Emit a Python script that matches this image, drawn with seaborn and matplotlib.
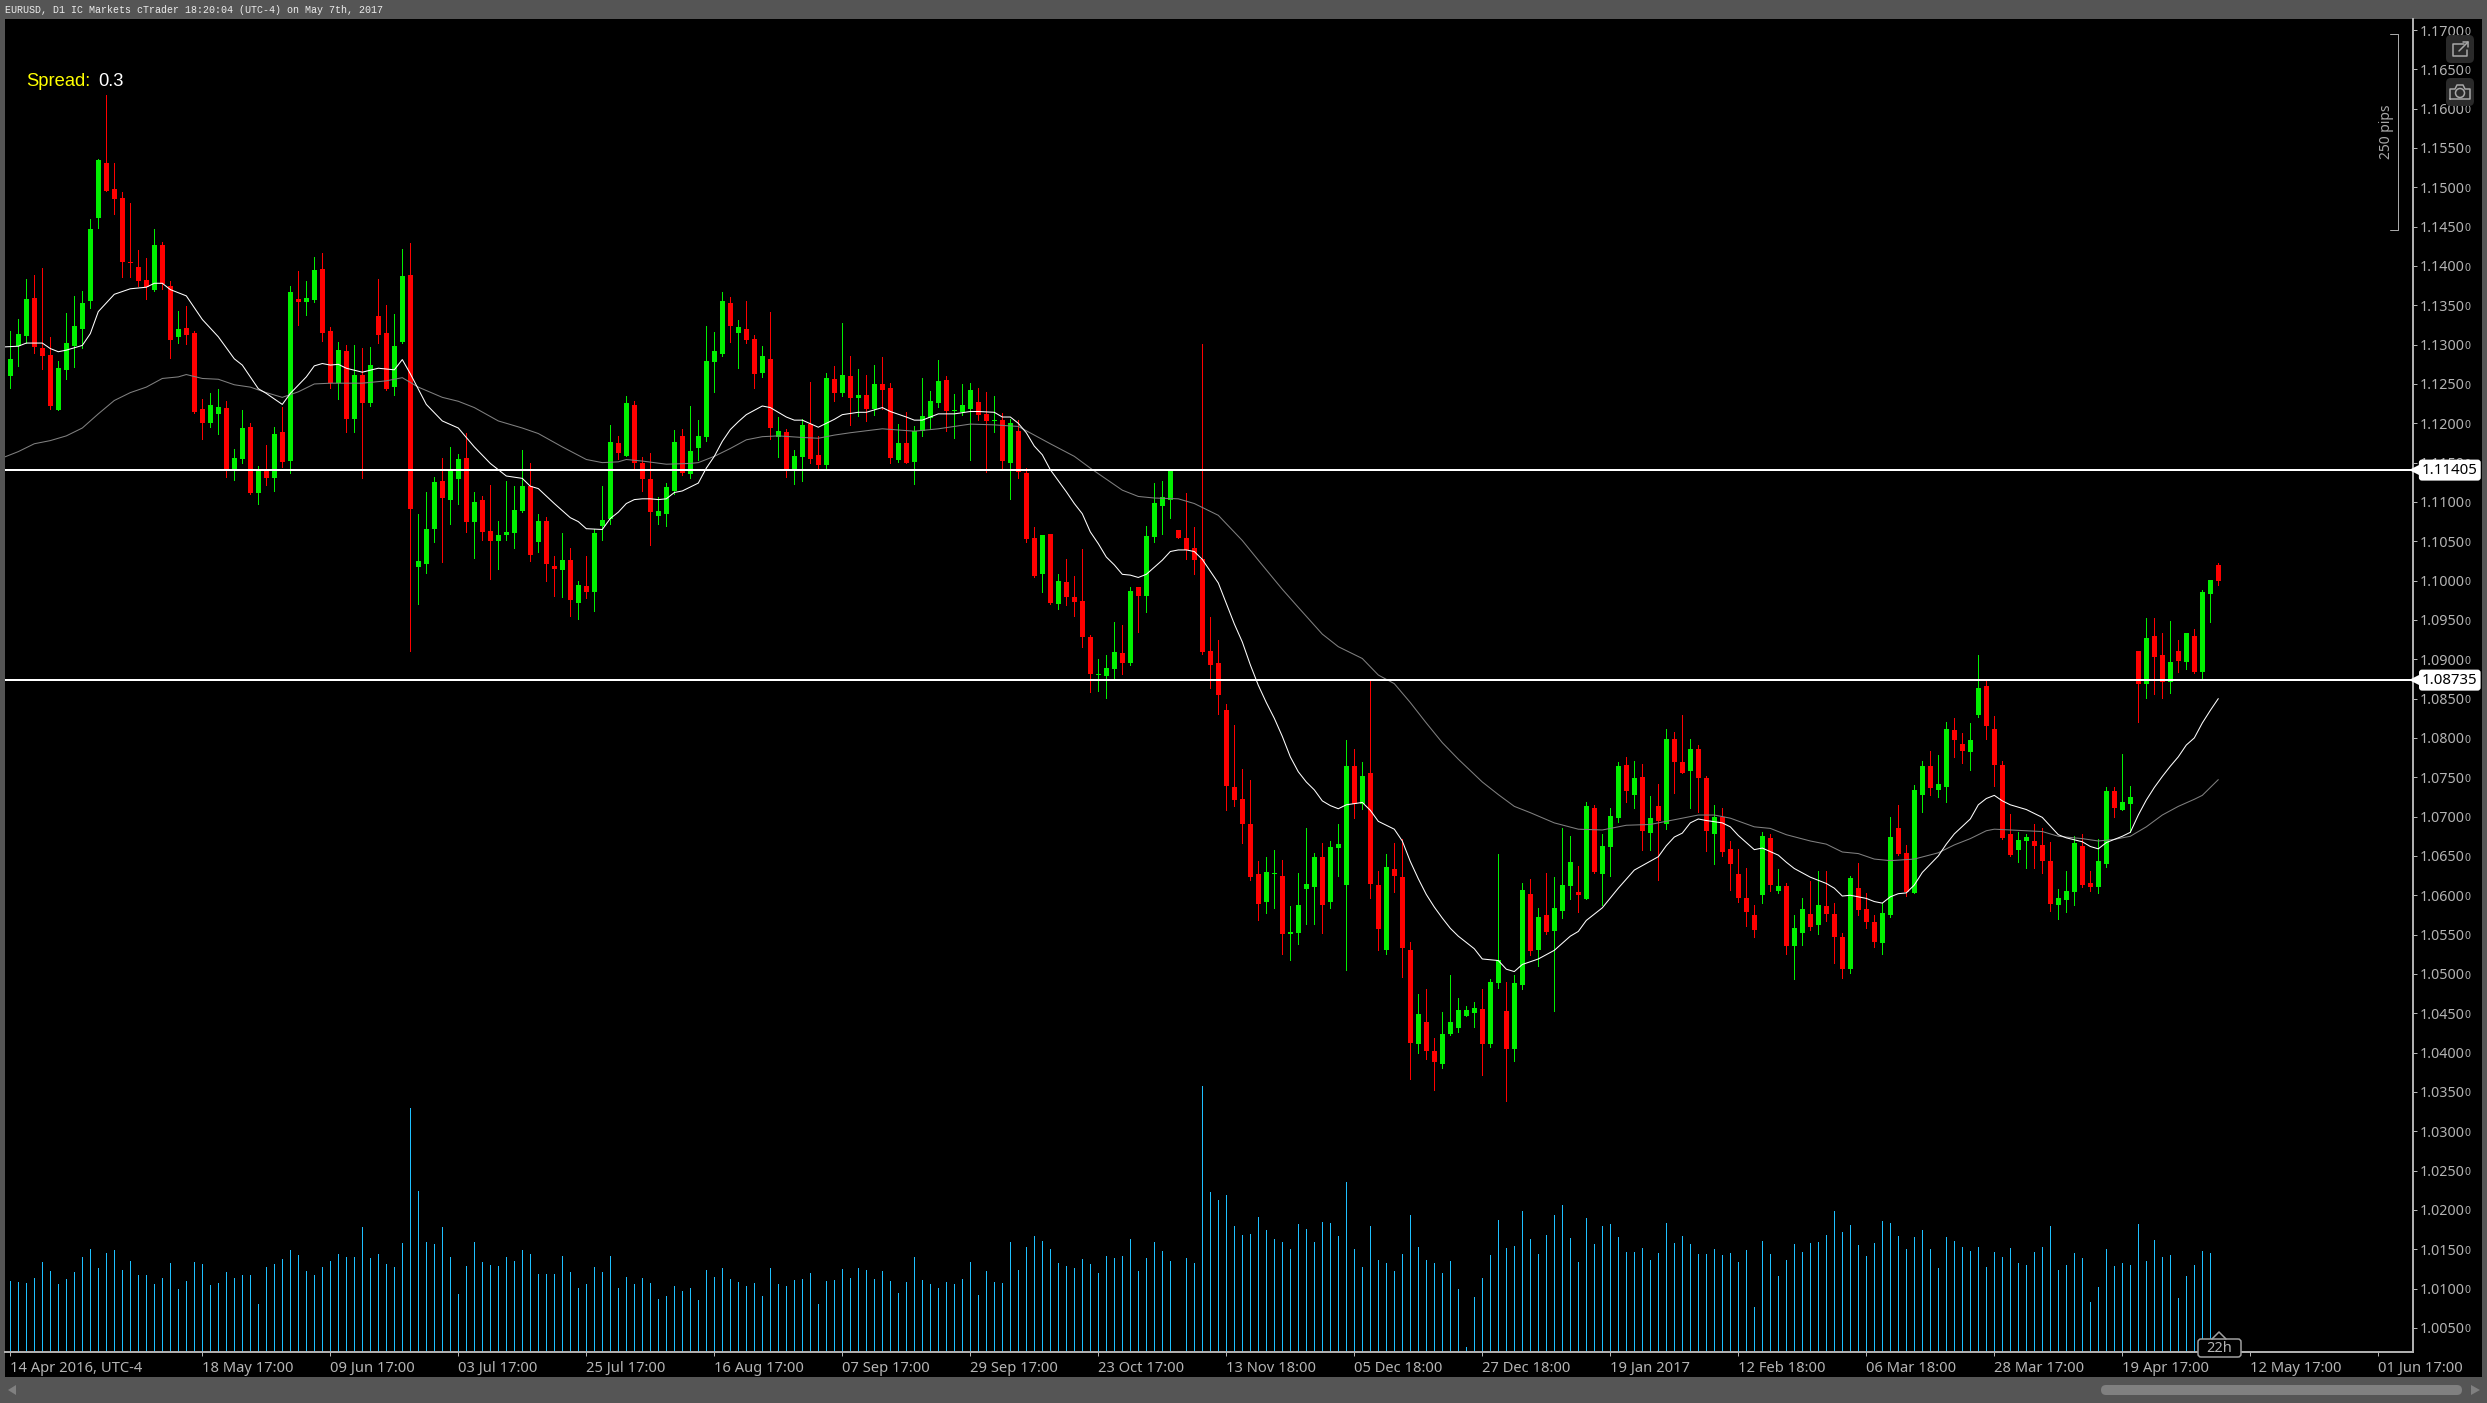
import numpy as np
import pandas as pd
import matplotlib.pyplot as plt
from matplotlib.patches import FancyBboxPatch, Polygon, Rectangle, Circle
import seaborn as sns

# prices below are price x 10000
opens = [11260,11298,11311,11359,11296,11287,11217,11268,11298,11320,
         11355,11461,11531,11498,11486,11405,11399,11382,11369,11427,
         11374,11310,11321,11315,11218,11201,11212,11219,11142,11154,
         11195,11111,11140,11130,11189,11152,11358,11354,11357,11396,
         11317,11251,11292,11205,11261,11226,11336,11315,11246,11303,
         11388,11017,11021,11065,11127,11102,11129,11156,11074,11102,
         11063,11050,11058,11060,11088,11120,11049,11076,11018,11013,
         11026,10971,10993,10985,11069,11078,11175,11158,11223,11150,
         11129,11082,11085,11114,11184,11136,11169,11183,11278,11288,
         11353,11315,11320,11307,11264,11282,11183,11189,11141,11157,
         11199,11160,11147,11256,11239,11260,11232,11236,11218,11250,
         11245,11153,11175,11151,11190,11207,11226,11255,11216,11214,
         11218,11227,11212,11203,11204,11150,11190,11137,11054,11008,
         11059,10970,10998,10979,10974,10928,10880,10879,10888,10908,
         10895,10992,10980,11055,11095,11102,11064,11054,11041,11027,
         10911,10895,10836,10738,10723,10691,10627,10592,10627,10625,
         10551,10552,10608,10610,10649,10591,10660,10613,10764,10716,
         10755,10613,10531,10634,10623,10531,10411,10439,10402,10385,
         10424,10431,10446,10450,10455,10411,10489,10453,10404,10486,
         10601,10530,10575,10554,10580,10612,10604,10595,10711,10627,
         10661,10698,10765,10728,10750,10679,10714,10691,10799,10769,
         10758,10786,10749,10678,10699,10659,10627,10597,10575,10600,
         10673,10606,10612,10535,10552,10576,10562,10586,10576,10547,
         10506,10609,10582,10566,10539,10575,10685,10654,10603,10728,
         10764,10734,10737,10810,10792,10782,10829,10866,10811,10766,
         10678,10657,10669,10669,10664,10644,10587,10594,10604,10663,
         10615,10611,10640,10732,10709,10716,10910,10868,10930,10905,
         10871,10910,10897,10929,10884,10983,11020]
highs = [11317,11332,11384,11388,11397,11310,11279,11340,11362,11368,
         11460,11536,11617,11531,11494,11480,11420,11410,11447,11430,
         11381,11343,11349,11317,11231,11238,11243,11228,11167,11217,
         11201,11146,11173,11195,11221,11374,11393,11381,11411,11416,
         11322,11303,11299,11299,11296,11297,11383,11350,11339,11421,
         11429,11085,11113,11132,11156,11170,11161,11188,11113,11107,
         11121,11076,11127,11120,11166,11149,11085,11081,11031,11060,
         11041,10999,11031,11065,11120,11198,11184,11235,11228,11157,
         11162,11106,11124,11191,11193,11222,11204,11324,11316,11367,
         11361,11331,11355,11312,11298,11341,11208,11193,11166,11205,
         11252,11184,11264,11273,11328,11286,11269,11261,11274,11284,
         11251,11199,11214,11197,11258,11241,11280,11260,11237,11250,
         11251,11245,11240,11235,11213,11205,11204,11143,11068,11058,
         11059,11008,11028,11006,11040,10931,10900,10905,10947,10944,
         10992,10992,11069,11124,11127,11142,11064,11111,11068,11301,
         10954,10924,10843,10817,10760,10746,10643,10649,10658,10645,
         10586,10628,10686,10654,10667,10669,10690,10797,10786,10769,
         10872,10631,10652,10667,10671,10540,10474,10481,10418,10451,
         10499,10469,10459,10464,10481,10494,10653,10490,10499,10616,
         10621,10584,10628,10623,10685,10675,10637,10719,10715,10678,
         10711,10769,10776,10771,10767,10726,10741,10812,10808,10829,
         10799,10791,10751,10715,10711,10669,10659,10635,10588,10680,
         10678,10633,10616,10575,10596,10618,10631,10631,10590,10552,
         10625,10641,10603,10575,10590,10699,10715,10664,10740,10771,
         10783,10778,10820,10825,10806,10819,10906,10872,10828,10771,
         10703,10681,10678,10691,10685,10668,10608,10631,10675,10678,
         10631,10672,10737,10738,10779,10739,10911,10952,10952,10934,
         10949,10925,10934,10938,10988,11001,11023]
lows = [11245,11273,11302,11290,11269,11218,11217,11256,11271,11296,
        11347,11448,11495,11466,11386,11386,11374,11358,11368,11371,
        11283,11302,11301,11213,11180,11195,11187,11132,11128,11149,
        11110,11097,11121,11114,11144,11137,11325,11338,11354,11304,
        11245,11231,11189,11189,11130,11222,11302,11242,11236,11302,
        10911,10970,11010,11049,11024,11072,11097,11062,11029,11052,
        11002,11015,11052,11041,11087,11025,11036,10999,10980,10979,
        10955,10951,10978,10961,11052,11072,11155,11158,11142,11114,
        11045,11072,11069,11110,11134,11130,11153,11177,11240,11286,
        11303,11270,11302,11245,11259,11180,11157,11132,11123,11127,
        11150,11142,11142,11228,11235,11198,11209,11203,11210,11218,
        11150,11151,11150,11123,11184,11194,11221,11190,11181,11210,
        11153,11204,11138,11189,11142,11104,11130,11049,11005,10985,
        10970,10964,10969,10955,10916,10858,10860,10851,10875,10881,
        10893,10935,10960,11049,11059,11080,11054,11027,11008,10907,
        10864,10831,10708,10713,10666,10620,10569,10578,10584,10525,
        10518,10538,10564,10564,10552,10584,10624,10505,10698,10710,
        10596,10530,10525,10604,10496,10367,10400,10392,10352,10381,
        10422,10426,10446,10432,10371,10407,10482,10339,10389,10481,
        10524,10510,10551,10453,10571,10595,10579,10595,10628,10588,
        10624,10693,10719,10711,10657,10657,10619,10684,10730,10755,
        10711,10706,10656,10640,10650,10607,10592,10561,10547,10590,
        10606,10603,10525,10494,10537,10556,10551,10567,10514,10495,
        10501,10575,10558,10534,10525,10572,10651,10599,10603,10706,
        10727,10725,10718,10776,10768,10759,10826,10799,10739,10672,
        10650,10642,10635,10635,10628,10580,10570,10579,10588,10610,
        10606,10603,10636,10700,10709,10681,10820,10851,10856,10851,
        10857,10884,10888,10883,10875,10948,10994]
closes = [11282,11313,11358,11297,11286,11222,11270,11302,11324,11353,
          11447,11535,11495,11485,11405,11404,11381,11373,11427,11377,
          11306,11320,11312,11215,11201,11223,11221,11142,11156,11194,
          11112,11140,11130,11187,11151,11367,11354,11359,11395,11315,
          11251,11293,11205,11261,11226,11274,11312,11243,11298,11387,
          11091,11025,11065,11125,11105,11139,11154,11074,11100,11062,
          11050,11058,11062,11090,11120,11032,11076,11021,11015,11026,
          10975,10994,10985,11060,11077,11176,11162,11226,11150,11129,
          11087,11088,11119,11176,11137,11165,11184,11279,11292,11355,
          11324,11322,11306,11263,11286,11194,11190,11141,11158,11198,
          11155,11147,11258,11239,11261,11232,11236,11218,11250,11242,
          11156,11175,11150,11190,11209,11228,11254,11216,11217,11223,
          11242,11210,11203,11204,11152,11200,11138,11053,11006,11058,
          10971,11000,10979,10973,10928,10881,10881,10889,10909,10895,
          10987,10980,11057,11099,11106,11140,11054,11039,11026,10909,
          10893,10854,10739,10721,10691,10623,10589,10629,10628,10551,
          10553,10588,10614,10649,10587,10661,10665,10764,10716,10752,
          10614,10557,10636,10624,10533,10412,10449,10402,10388,10424,
          10439,10454,10454,10457,10411,10490,10518,10405,10489,10607,
          10529,10572,10553,10584,10613,10642,10600,10713,10629,10662,
          10701,10764,10732,10749,10682,10698,10695,10799,10769,10756,
          10786,10749,10682,10699,10655,10640,10597,10579,10556,10675,
          10613,10612,10535,10558,10582,10560,10588,10576,10547,10506,
          10622,10581,10566,10541,10577,10674,10652,10604,10734,10764,
          10736,10741,10811,10797,10783,10797,10863,10815,10766,10673,
          10651,10670,10674,10663,10644,10589,10597,10606,10667,10613,
          10610,10644,10732,10711,10718,10725,10868,10927,10903,10871,
          10896,10898,10934,10884,10985,11001,10999]

# tick volume, arbitrary units; the broker gave nothing for one bar
volumes = [71,70,69,74,90,81,68,73,80,95,
           103,84,99,102,82,91,77,77,68,74,
           89,63,71,90,88,67,69,80,74,77,
           77,48,85,88,93,102,97,81,77,85,
           91,98,95,95,125,94,98,88,85,109,
           244,161,110,108,125,95,58,86,110,90,
           87,86,95,91,102,98,78,78,78,96,
           80,64,68,85,80,96,64,75,68,74,
           69,53,56,66,61,64,52,82,75,84,
           73,70,66,69,56,84,68,66,72,73,
           79,48,71,72,83,74,84,82,73,81,
           71,59,70,95,72,68,64,70,68,73,
           90,57,81,70,69,110,82,105,116,111,
           103,89,86,84,93,88,79,96,94,96,
           113,81,94,110,101,91,0,94,89,266,
           160,152,157,126,117,118,135,122,113,110,
           103,128,123,110,130,129,116,170,103,85,
           126,92,89,81,98,137,105,92,89,79,
           91,63,5,55,74,97,132,104,106,141,
           113,98,117,137,147,114,90,134,108,126,
           128,115,100,100,104,92,99,129,109,116,
           108,98,98,103,97,99,90,102,45,111,
           98,76,92,108,100,109,110,117,141,120,
           127,107,96,109,131,129,116,103,115,122,
           103,84,115,111,105,101,105,85,100,95,
           104,89,87,100,105,126,82,87,99,94,
           50,65,103,86,89,87,128,91,112,95,
           97,54,76,87,101,99,10]

fast_idx = [-1,1,2,4,5,6,7,9,10,11,13,15,17,18,19,20,22,24,26,28,29,31,32,34,35,37,38,39,40,41,42,44,46,48,49,50,
            52,54,56,58,60,62,64,65,66,68,70,71,72,74,75,76,
            77,78,79,80,81,82,83,84,86,87,88,89,90,91,92,94,95,97,98,99,101,103,104,106,107,109,110,112,113,114,
            116,117,118,120,121,123,124,125,126,127,128,129,130,132,133,134,135,136,137,138,139,140,141,142,144,
            145,146,147,148,149,151,152,153,154,155,156,157,158,159,160,161,162,163,164,165,166,167,169,170,171,
            173,174,175,176,177,178,179,180,181,183,184,186,187,188,189,191,193,195,196,197,199,201,203,206,207,208,
            209,210,211,212,214,215,216,218,219,221,222,223,225,227,228,229,230,232,233,234,235,236,237,238,239,
            241,242,243,245,246,247,248,249,250,252,254,256,257,259,260,261,262,264,265,266,267,268,269,270,271,
            272,273,274,275,276]
fast_ma = [11297,11298,11302,11302,11295,11291,11293,11299,11314,11342,11364,11371,11373,11378,11378,11370,11362,11332,
           11310,11282,11274,11244,11238,11224,11238,11259,11273,11276,11274,11275,11270,11265,11270,11268,11281,11263,
           11224,11203,11194,11170,11149,11133,11130,11120,11117,11098,11080,11075,11066,11065,11079,11087,
           11098,11103,11104,11104,11103,11104,11112,11114,11124,11143,11158,11177,11192,11202,11211,11222,11220,11208,
           11204,11204,11195,11205,11211,11214,11214,11220,11215,11208,11204,11204,
           11212,11212,11212,11215,11215,11214,11208,11208,11200,11188,11171,11160,11141,11113,11098,11085,11062,11047,
           11030,11020,11008,11007,11004,11008,11026,
           11037,11039,11039,11037,11027,10997,10971,10945,10922,10893,10867,10845,10825,10802,10776,10757,10744,10734,
           10720,10714,10710,10715,10718,10708,10694,
           10684,10669,10643,10621,10601,10585,10571,10558,10548,10532,10519,10517,10506,10503,10512,10519,10530,10548,
           10554,10568,10584,10609,10632,10649,10663,10674,
           10679,10692,10697,10695,10692,10687,10676,10658,10660,10651,10642,10634,10623,10615,10609,10599,10600,10596,
           10592,10590,10598,10602,10603,10613,10629,
           10650,10665,10678,10697,10715,10723,10727,10720,10715,10709,10699,10677,10673,10668,10662,10659,10667,10675,
           10680,10702,10721,10737,10751,10764,10776,
           10791,10800,10819,10835,10850]

slow_idx = [-1,1,3,5,7,9,11,13,15,17,19,21,22,24,26,28,30,32,34,36,38,40,44,47,49,51,54,56,58,61,64,66,69,72,74,76,
            77,79,82,85,86,88,90,92,94,96,99,101,103,105,109,113,116,120,123,126,128,130,133,135,138,139,141,143,146,148,
            151,154,156,159,161,164,166,169,171,173,175,177,179,181,184,186,188,190,193,196,199,202,205,208,
            209,211,213,215,218,220,222,225,227,229,231,233,235,238,241,243,245,247,248,252,254,256,259,261,263,265,267,
            269,271,273,274,276]
slow_ma = [11156,11164,11174,11178,11184,11194,11212,11229,11239,11246,11257,11259,11262,11257,11256,11249,11246,11239,
           11233,11240,11250,11251,11251,11254,11258,11246,11233,11228,11220,11203,11194,11187,11170,11154,11150,11151,
           11154,11152,11148,11149,11150,11158,11168,11179,11183,11184,11182,11181,11185,11188,11193,11190,11193,11199,
           11198,11196,11185,11174,11158,11143,11122,11115,11107,11105,11104,11098,
           11083,11051,11026,10989,10966,10932,10916,10901,10880,10869,10845,10819,10794,10773,10744,10728,10713,10705,
           10692,10684,10683,10689,10690,10696,
           10698,10702,10702,10698,10687,10685,10677,10669,10665,10655,10653,10646,10644,10646,10654,10664,10672,10682,
           10684,10682,10681,10675,10672,10669,10671,10675,10687,
           10702,10713,10722,10727,10747]

levels = [1.11405, 1.08735]
price_ticks = [1.005 + 0.005 * k for k in range(34)]
date_idx = [0, 24, 40, 56, 72, 88, 104, 120, 136, 152, 168, 184, 200, 216, 232, 248, 264, 280, 296]
date_labels = ['14 Apr 2016, UTC-4', '18 May 17:00', '09 Jun 17:00', '03 Jul 17:00', '25 Jul 17:00',
               '16 Aug 17:00', '07 Sep 17:00', '29 Sep 17:00', '23 Oct 17:00', '13 Nov 18:00',
               '05 Dec 18:00', '27 Dec 18:00', '19 Jan 2017', '12 Feb 18:00', '06 Mar 18:00',
               '28 Mar 17:00', '19 Apr 17:00', '12 May 17:00', '01 Jun 17:00']

W, H = 2487, 1403
CHROME = '#555555'
AXIS = '#b4b4b4'
GREEN = '#00f000'
RED = '#ff0000'
PX = 0.72  # one pixel in points at dpi 100

sns.set_theme(style='dark', rc={'axes.grid': False})
plt.rcParams['font.family'] = ['Noto Sans', 'DejaVu Sans']

df = pd.DataFrame({'open': opens, 'high': highs, 'low': lows, 'close': closes}) / 1e4
df['vol'] = volumes
df['idx'] = df.index
df['up'] = df['close'] >= df['open']

fig = plt.figure(figsize=(W / 100, H / 100), dpi=100, facecolor=CHROME)

# screenshot frame lives in pixel coordinates
bg = fig.add_axes([0, 0, 1, 1], zorder=-1)
bg.set_xlim(0, W)
bg.set_ylim(H, 0)
bg.axis('off')
bg.add_patch(Rectangle((5, 19), 2477, 1358, fc='black', ec='none'))

ax = fig.add_axes([5 / W, 1 - 1351.7 / H, 2408 / W, 1332.7 / H], zorder=1)
ax.patch.set_visible(False)
ax_vol = ax.twinx()
ax_vol.set_zorder(0)
ax_vol.patch.set_visible(False)

ax_vol.vlines(df['idx'], 0, df['vol'], color='#1ec0ff', lw=PX, antialiased=False)
ax_vol.set_ylim(0, 1332.7)
ax_vol.set_yticks([])
ax_vol.grid(False)
for s in ax_vol.spines.values():
    s.set_visible(False)

for up, color in [(True, GREEN), (False, RED)]:
    part = df[df['up'] == up]
    ax.vlines(part['idx'], part['low'], part['high'], color=color, lw=PX, antialiased=False, zorder=2)
    lo = part[['open', 'close']].min(axis=1)
    hi = part[['open', 'close']].max(axis=1)
    ax.bar(part['idx'], (hi - lo).clip(lower=0.00013), bottom=lo, width=0.625, color=color,
           lw=0, antialiased=False, zorder=3)

slow = pd.DataFrame({'idx': slow_idx, 'ma': np.array(slow_ma) / 1e4})
fast = pd.DataFrame({'idx': fast_idx, 'ma': np.array(fast_ma) / 1e4})
sns.lineplot(data=slow, x='idx', y='ma', ax=ax, color='#808080', lw=0.75, errorbar=None, zorder=4)
sns.lineplot(data=fast, x='idx', y='ma', ax=ax, color='white', lw=0.75, errorbar=None, zorder=5)

for lvl in levels:
    ax.axhline(lvl, color='white', lw=2 * PX, zorder=6)
    ax.plot(1.001, lvl, marker='<', ms=9, color='white', mew=0, clip_on=False, zorder=7,
            transform=ax.get_yaxis_transform())
    ax.annotate(f'{lvl:.5f}', xy=(1, lvl), xycoords=ax.get_yaxis_transform(), xytext=(26.5, 0),
                textcoords='offset points', ha='center', va='center', color='black', fontsize=10.8,
                annotation_clip=False, zorder=8,
                bbox=dict(boxstyle='round,pad=0.2', fc='white', ec='white', lw=0))

ax.set(xlabel='', ylabel='')
ax.set_xlim((5 - 10.3) / 8, (2413 - 10.3) / 8)
ax.set_ylim(1.17 - 1321.7 / 7866, 1.17 + 11 / 7866)

ax.set_xticks(date_idx, date_labels, ha='left')
ax.set_yticks(price_ticks, [f'{t:.4f}' for t in price_ticks])
ax.yaxis.tick_right()
ax.tick_params(axis='x', colors=AXIS, length=3, width=PX, pad=3.8, labelsize=10.6, bottom=True)
ax.tick_params(axis='y', colors=AXIS, length=3, width=PX, pad=2, labelsize=10.3, right=True, left=False)
for lab in ax.get_xticklabels():
    lab.set_ha('left')
for t in price_ticks:
    ax.annotate('0', xy=(1, t), xycoords=ax.get_yaxis_transform(), xytext=(37, -1.5),
                textcoords='offset points', ha='left', va='center', color=AXIS, fontsize=7.5,
                annotation_clip=False)
for side, s in ax.spines.items():
    s.set_visible(side in ('right', 'bottom'))
    s.set_color(AXIS)
    s.set_linewidth(1.4)

# overlay: buttons, bracket, scrollbar, captions
top = fig.add_axes([0, 0, 1, 1], zorder=5)
top.set_xlim(0, W)
top.set_ylim(H, 0)
top.axis('off')

top.text(5, 10, 'EURUSD, D1 IC Markets cTrader 18:20:04 (UTC-4) on May 7th, 2017', color='#ececec',
         fontsize=7.2, family='Liberation Mono', va='center')
top.text(26, 82, 'Spread:', color='#ffff00', fontsize=13.2, family='Liberation Sans', va='center')
top.text(98, 82, '0.3', color='white', fontsize=13.2, family='Liberation Sans', va='center')

top.plot([2390, 2397.5, 2397.5, 2390], [34, 34, 230, 230], color='#a8a8a8', lw=PX)
top.text(2386, 132, '250 pips', color='#a8a8a8', fontsize=10, rotation=90, ha='center', va='center')

for y0 in (35, 78):
    top.add_patch(FancyBboxPatch((2449, y0 + 3), 22, 22, boxstyle='round,pad=3,rounding_size=5',
                                 fc='#2a2a2a', ec='none'))
icon = '#a8a8a8'
top.plot([2464, 2453, 2453, 2467, 2467], [44, 44, 56, 56, 50], color=icon, lw=1.1)
top.plot([2459, 2468], [51, 42], color=icon, lw=1.1)
top.plot([2463, 2468, 2468], [42, 42, 47], color=icon, lw=1.1)
top.plot([2450, 2450, 2455, 2457, 2463, 2465, 2470, 2470, 2450], [99, 89, 89, 85, 85, 89, 89, 99, 99], color=icon, lw=1.1)
top.add_patch(Circle((2460, 93), 4.5, fc='none', ec=icon, lw=1.1))

top.add_patch(Polygon([(2198, 1343), (2212, 1339), (2219, 1332), (2226, 1339), (2241, 1343),
                       (2241, 1355), (2198, 1355)], closed=True, fc='black', ec='none'))
top.add_patch(FancyBboxPatch((2200, 1341), 39, 14, boxstyle='round,pad=2,rounding_size=3', fc='black', ec='#a0a0a0', lw=1.1))
top.plot([2212, 2219, 2226], [1339, 1332, 1339], color='#a0a0a0', lw=1.1)
top.text(2219.5, 1349, '22h', color=AXIS, fontsize=10.5, ha='center', va='center')

top.add_patch(FancyBboxPatch((2101, 1385), 361, 10, boxstyle='round,pad=0,rounding_size=5', fc='#808080', ec='none'))
top.add_patch(Polygon([(16, 1385), (16, 1395), (8, 1390)], closed=True, fc='#808080', ec='none'))
top.add_patch(Polygon([(2471, 1385), (2471, 1395), (2480, 1390)], closed=True, fc='#808080', ec='none'))

fig.savefig('out.png', dpi=100, facecolor=CHROME)
